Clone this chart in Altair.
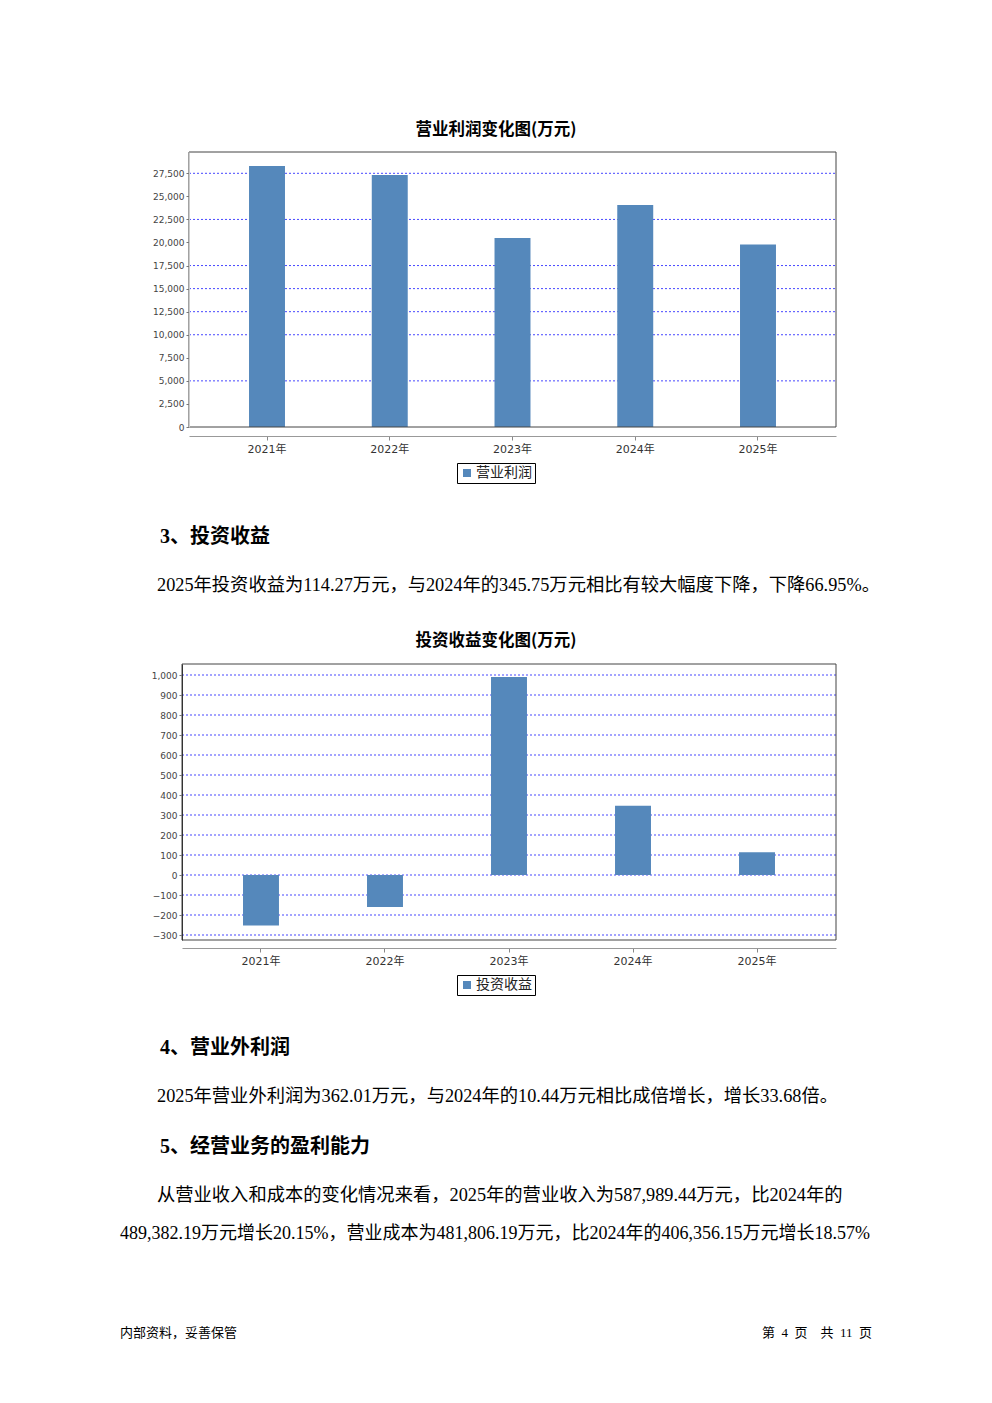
import altair as alt
import pandas as pd

# ---------------- data ----------------
years = ["2021年", "2022年", "2023年", "2024年", "2025年"]
op_profit = [28290, 27315, 20478, 24059, 19794]
inv_income = [-252, -160, 990, 345.75, 114.27]
series1 = "营业利润"
series2 = "投资收益"
ticks1 = list(range(0, 27501, 2500))
grid1 = [5000, 10000, 12500, 15000, 17500, 22500, 27500]
ticks2 = list(range(-300, 1001, 100))
grid2 = list(range(-300, 1001, 100))

title1 = "营业利润变化图(万元)"
title2 = "投资收益变化图(万元)"
head3 = "3、投资收益"
body3 = "2025年投资收益为114.27万元，与2024年的345.75万元相比有较大幅度下降，下降66.95%。"
head4 = "4、营业外利润"
body4 = "2025年营业外利润为362.01万元，与2024年的10.44万元相比成倍增长，增长33.68倍。"
head5 = "5、经营业务的盈利能力"
body5a = "从营业收入和成本的变化情况来看，2025年的营业收入为587,989.44万元，比2024年的"
body5b = "489,382.19万元增长20.15%，营业成本为481,806.19万元，比2024年的406,356.15万元增长18.57%"
foot_l = "内部资料，妥善保管"
foot_r = "第\u00a0\u00a04\u00a0\u00a0页\u00a0\u00a0\u00a0\u00a0共\u00a0\u00a011\u00a0\u00a0页"

# ---------------- style ----------------
W, H = 976, 1380
BLUE = "#5588bb"
GRIDC = "#3333ff"
CJK = "Noto Sans CJK SC"
SERIF = "Liberation Serif, Noto Sans CJK SC"
AXF = "DejaVu Sans, Noto Sans CJK SC"


def P(v):
    """page pixel -> plot pixel"""
    return v - 8


def bar_panel(years, values, series, ticks, grid, ydom, ytop, ybot, xl, xr,
              pin, pout, xaxis_y, legend_xy, ydomain_color):
    df = pd.DataFrame({"year": years, "value": values, "series": series})
    gdf = pd.DataFrame({"value": grid})
    yscale = alt.Scale(domain=ydom, range=[P(ybot), P(ytop)], nice=False, zero=False)
    yaxis = alt.Axis(title=None, values=ticks, orient="left",
                     labelExpr="format(datum.value, ',')",
                     offset=-P(xl), tickSize=3, tickColor="#777",
                     labelPadding=2, labelFontSize=9, labelFont=AXF,
                     labelColor="#444", domainColor=ydomain_color, grid=False,
                     zindex=1)
    xscale = alt.Scale(range=[P(xl), P(xr)], paddingInner=pin, paddingOuter=pout)
    xaxis = alt.Axis(title=None, orient="bottom", offset=-(H - P(xaxis_y)),
                     labelAngle=0, tickSize=4, tickColor="#888",
                     domainColor="#999", labelFontSize=11, labelFont=AXF,
                     labelColor="#333", labelPadding=3)
    y = alt.Y("value:Q", scale=yscale, axis=yaxis)

    grid_layer = alt.Chart(gdf).mark_rule(
        color=GRIDC, strokeDash=[2, 2], strokeWidth=1, opacity=0.9
    ).encode(y=y, x=alt.value(P(xl)), x2=alt.value(P(xr)))

    bars = alt.Chart(df).mark_bar().encode(
        x=alt.X("year:N", scale=xscale, axis=xaxis, sort=years),
        y=y,
        color=alt.Color("series:N",
                        scale=alt.Scale(domain=[series], range=[BLUE]),
                        legend=alt.Legend(orient="none", legendX=P(legend_xy[0]),
                                          legendY=P(legend_xy[1]), title=None,
                                          symbolType="square", symbolSize=64,
                                          symbolStrokeWidth=0, labelFontSize=14,
                                          labelFont=CJK, labelColor="#222",
                                          strokeColor="#000", padding=3,
                                          fillColor="white", rowPadding=0,
                                          labelOffset=2)),
    )

    frame = alt.Chart().mark_rect(fillOpacity=0, stroke="#444", strokeWidth=1).encode(
        x=alt.value(P(xl)), x2=alt.value(P(xr)),
        y=alt.value(P(ytop)), y2=alt.value(P(ybot)))

    return alt.layer(grid_layer, bars, frame)


panel1 = bar_panel(years, op_profit, series1, ticks1, grid1, [0, 29810],
                   152, 427, 189, 836, 0.707, 0.489, 436, (457, 463), "#cccccc")
panel2 = bar_panel(years, inv_income, series2, ticks2, grid2, [-325, 1055],
                   664, 940, 182, 836, 0.71, 0.492, 948, (457, 975), "#333333")


def txt(s, x, y, size, weight="normal", align="left", font=SERIF, color="#000"):
    return alt.Chart().mark_text(
        text=s, align=align, baseline="middle", fontSize=size,
        fontWeight=weight, font=font, color=color
    ).encode(x=alt.value(P(x)), y=alt.value(P(y)))


texts = [
    txt(title1, 496, 130, 16.5, "bold", "center", CJK),
    txt(head3, 160, 537, 20, "bold"),
    txt(body3, 157, 586, 18.3),
    txt(title2, 496, 641, 16.5, "bold", "center", CJK),
    txt(head4, 160, 1048, 20, "bold"),
    txt(body4, 157, 1097, 18.3),
    txt(head5, 160, 1147, 20, "bold"),
    txt(body5a, 157, 1196, 18.3),
    txt(body5b, 120, 1234, 18.0),
    txt(foot_l, 120, 1333, 13, "normal", "left", CJK),
    txt(foot_r, 872, 1333, 13, "normal", "right", SERIF),
]

chart = alt.layer(panel1, panel2, *texts).resolve_scale(
    x="independent", y="independent", color="independent"
).properties(
    width=W, height=H, padding=0,
    autosize=alt.AutoSizeParams(type="none"),
    background="white",
).configure_view(stroke=None)

chart.save("out.html", embed_options={"renderer": "svg", "actions": False})
